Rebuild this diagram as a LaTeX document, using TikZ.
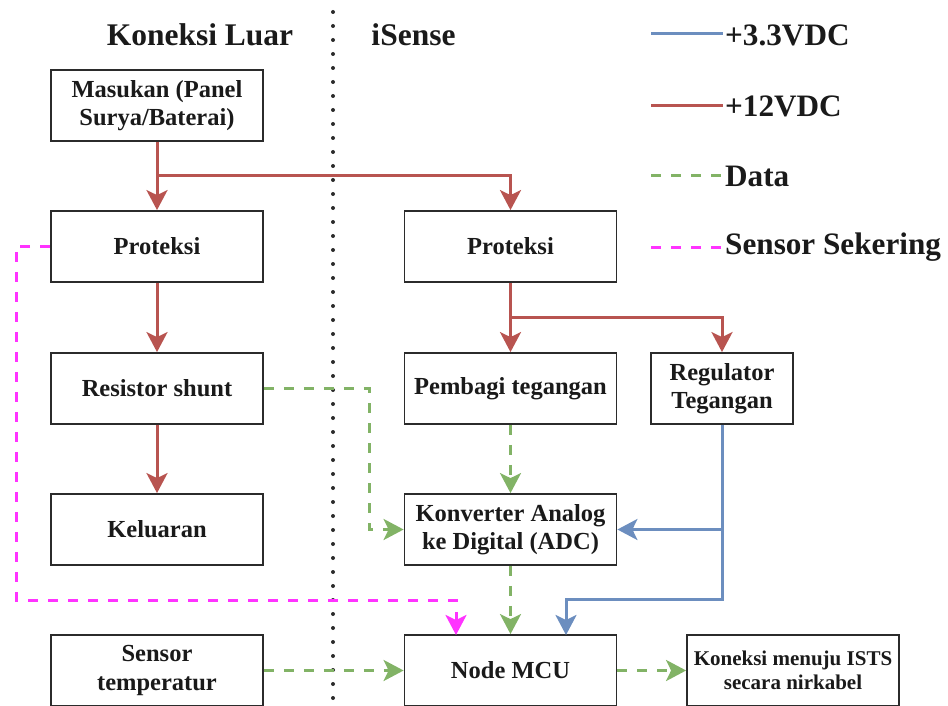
\documentclass[tikz,border=0pt]{standalone}
\usepackage{fontspec}
\setmainfont{Liberation Serif}
\usetikzlibrary{arrows.meta}
\definecolor{cred}{HTML}{B85450}
\definecolor{cblue}{HTML}{6C8EBF}
\definecolor{cgreen}{HTML}{82B366}
\definecolor{cmag}{HTML}{FF33FF}
\definecolor{boxc}{HTML}{2B2B2B}
\definecolor{txtc}{HTML}{1A1A1A}
\begin{document}
\begin{tikzpicture}[x=1pt,y=-1pt,
  box/.style={draw=boxc, line width=1.8pt, minimum width=212pt, minimum height=71pt, inner sep=1pt, align=center, text=txtc, font=\fontsize{24.5}{28.2}\selectfont\bfseries},
  tip/.style={-{Stealth[length=20pt,width=21pt,inset=5pt]}},
  pw12/.style={draw=cred, line width=3pt, tip},
  pw33/.style={draw=cblue, line width=3pt, tip},
  datal/.style={draw=cgreen, line width=3pt, dash pattern=on 10pt off 10pt, tip},
  sekl/.style={draw=cmag, line width=3pt, dash pattern=on 10pt off 10pt, tip},
  ttl/.style={text=txtc, font=\fontsize{31.5}{36}\selectfont\bfseries, inner sep=0pt},
  leg/.style={text=txtc, font=\fontsize{31.2}{36}\selectfont\bfseries, inner sep=0pt, anchor=west}
]
\useasboundingbox (0,0) rectangle (948,706);

% divider
\coordinate (dtop) at (333,12);
\coordinate (dbot) at (333,706);
\draw[boxc, line width=4pt, line cap=round, dash pattern=on 0pt off 14pt] (dtop) -- (dbot);

% titles
\node[ttl] (tL) at (200,35) {Koneksi Luar};
\node[ttl] (tR) at (413.5,35) {iSense};

% boxes left
\node[box] (mas) at (157,105.5) {Masukan (Panel\\Surya/Baterai)};
\node[box] (protL) at (157,246.5) {Proteksi};
\node[box] (shunt) at (157,388.5) {Resistor shunt};
\node[box] (kel) at (157,529.5) {Keluaran};
\node[box] (temp) at (157,670.5) {Sensor\\temperatur};

% boxes right
\node[box] (protR) at (510.5,246.5) {Proteksi};
\node[box] (pemb) at (510.5,388.5) {Pembagi tegangan};
\node[box, minimum width=142pt] (reg) at (722,388.5) {Regulator\\Tegangan};
\node[box] (adc) at (510.5,529.5) {Konverter Analog\\ke Digital (ADC)};
\node[box] (mcu) at (510.5,670.5) {Node MCU};
\node[box, font=\fontsize{21}{23.5}\selectfont\bfseries] (ists) at (793,670.5) {Koneksi menuju ISTS\\secara nirkabel};

% junctions
\coordinate (j1) at (157,176);
\coordinate (j2) at (510.5,317);
\coordinate (g1) at (369,388.5);
\coordinate (b1) at (722,599);
\coordinate (mcuB) at (566,635);
\coordinate (mcuM) at (456,635);
\coordinate (m1) at (16,246.5);
\coordinate (m2) at (16,600);

% +12V
\draw[pw12] (mas.south) -- (protL.north);
\draw[pw12] (j1) -| (protR.north);
\draw[pw12] (protL.south) -- (shunt.north);
\draw[pw12] (shunt.south) -- (kel.north);
\draw[pw12] (protR.south) -- (pemb.north);
\draw[pw12] (j2) -| (reg.north);

% +3.3V
\draw[pw33] (reg.south) |- (adc.east);
\draw[pw33] (reg.south) -- (b1) -| (mcuB);

% data
\draw[datal] (shunt.east) -- (g1) |- (adc.west);
\draw[datal] (pemb.south) -- (adc.north);
\draw[datal] (adc.south) -- (mcu.north);
\draw[datal] (temp.east) -- (mcu.west);
\draw[datal] (mcu.east) -- (ists.west);

% sensor sekering
\draw[sekl] (protL.west) -- (m1) -- (m2) -| (mcuM);

% legend
\coordinate (l1a) at (651,34);  \coordinate (l1b) at (723,34);
\coordinate (l2a) at (651,106); \coordinate (l2b) at (723,106);
\coordinate (l3a) at (651,176); \coordinate (l3b) at (723,176);
\coordinate (l4a) at (651,247); \coordinate (l4b) at (723,247);
\draw[cblue, line width=3pt] (l1a) -- (l1b);
\draw[cred, line width=3pt] (l2a) -- (l2b);
\draw[cgreen, line width=3pt, dash pattern=on 10pt off 10pt] (l3a) -- (l3b);
\draw[cmag, line width=3pt, dash pattern=on 10pt off 10pt] (l4a) -- (l4b);
\node[leg] (lg1) at (725,35) {+3.3VDC};
\node[leg] (lg2) at (725,106) {+12VDC};
\node[leg] (lg3) at (725,176) {Data};
\node[leg] (lg4) at (725,247) {Sensor Sekering};
\end{tikzpicture}
\end{document}
